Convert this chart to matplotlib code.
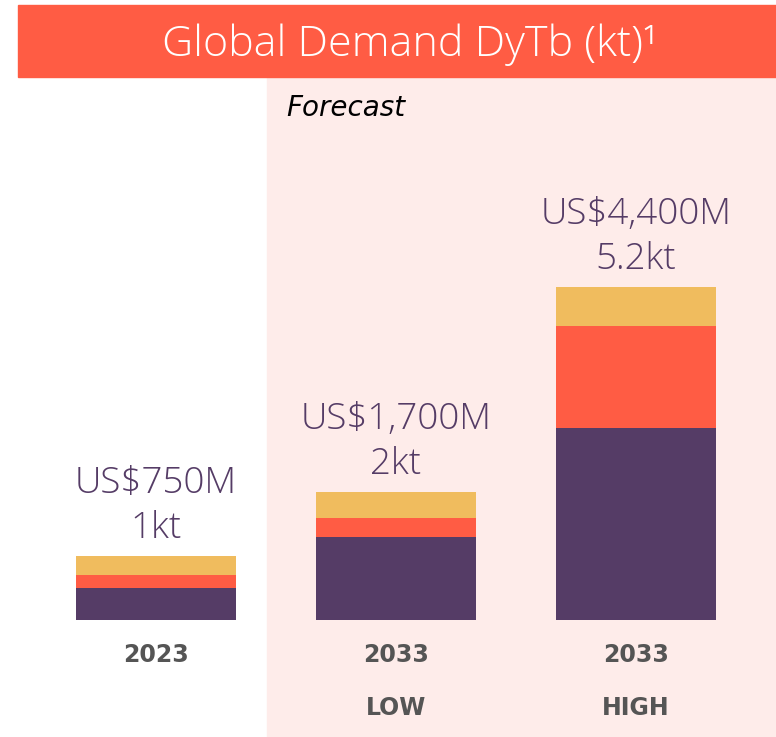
import matplotlib
matplotlib.use("Agg")
import matplotlib.pyplot as plt
from matplotlib.patches import Rectangle


# values in kt
years = ["2023", "2033", "2033"]
scenarios = ["", "LOW", "HIGH"]
purple_part = [0.5, 1.3, 3.0]
orange_part = [0.2, 0.3, 1.6]
yellow_part = [0.3, 0.4, 0.6]
value_labels = ["US$750M", "US$1,700M", "US$4,400M"]
kt_labels = ["1kt", "2kt", "5.2kt"]

PURPLE = "#553c66"
ORANGE = "#ff5c44"
YELLOW = "#f0bc5e"
PINK = "#feecea"
GREY = "#555555"
LIGHT_FONT = "Open Sans"
BOLD_FONT = "DejaVu Sans"

W, H = 776, 737
fig = plt.figure(figsize=(W / 100, H / 100), dpi=100)
ax = fig.add_axes([0, 0, 1, 1])
ax.patch.set_visible(False)
ax.axis("off")

# 240 px between bar centres, 64 px per kt, baseline at y=620 px
ax.set_xlim(-156 / 240, (W - 156) / 240)
ax.set_ylim(-(H - 620) / 64, 620 / 64)

# header banner and forecast shading
ax.add_patch(Rectangle((267 / W, 0), 1 - 267 / W, (H - 77) / H,
                       transform=fig.transFigure, color=PINK, zorder=0, clip_on=False))
ax.add_patch(Rectangle((18 / W, (H - 77) / H), 1 - 18 / W, 72 / H,
                       transform=fig.transFigure, color=ORANGE, zorder=0, clip_on=False))
fig.text(410 / W, (H - 56) / H, "Global Demand DyTb (kt)\u00b9", color="white",
         fontsize=31, fontfamily=LIGHT_FONT, fontweight="light", ha="center", va="baseline")
fig.text(286 / W, (H - 116) / H, "Forecast", color="black", fontsize=20,
         fontfamily=BOLD_FONT, fontstyle="italic", ha="left", va="baseline")

x = list(range(len(years)))
bw = 160 / 240
bottom2 = [p + o for p, o in zip(purple_part, orange_part)]
ax.bar(x, purple_part, width=bw, color=PURPLE, zorder=2)
ax.bar(x, orange_part, width=bw, bottom=purple_part, color=ORANGE, zorder=2)
ax.bar(x, yellow_part, width=bw, bottom=bottom2, color=YELLOW, zorder=2)

for i in x:
    top = bottom2[i] + yellow_part[i]
    ax.annotate(kt_labels[i], (i, top), xytext=(0, 13), textcoords="offset points",
                ha="center", va="baseline", fontsize=26.5, color=PURPLE,
                fontfamily=LIGHT_FONT, fontweight="light")
    ax.annotate(value_labels[i], (i, top), xytext=(0, 45.5), textcoords="offset points",
                ha="center", va="baseline", fontsize=26.5, color=PURPLE,
                fontfamily=LIGHT_FONT, fontweight="light")
    ax.annotate(years[i], (i, 0), xytext=(0, -30.2), textcoords="offset points",
                ha="center", va="baseline", fontsize=17, color=GREY,
                fontfamily=BOLD_FONT, fontweight="bold")
    if scenarios[i]:
        ax.annotate(scenarios[i], (i, 0), xytext=(0, -68.4), textcoords="offset points",
                    ha="center", va="baseline", fontsize=17, color=GREY,
                    fontfamily=BOLD_FONT, fontweight="bold")

fig.savefig("out.png", dpi=100)
